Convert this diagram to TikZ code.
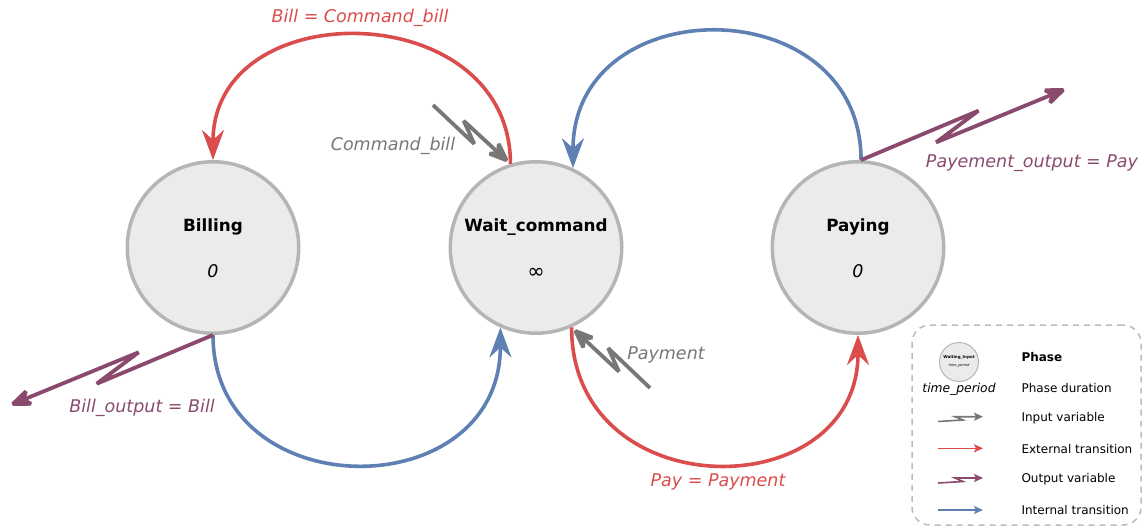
\documentclass[tikz,border=0pt]{standalone}
\usepackage{fontspec}
\setmainfont{DejaVu Sans}
\usetikzlibrary{arrows.meta,calc}
\definecolor{ered}{HTML}{DB4C4C}
\definecolor{iblue}{HTML}{5E80B2}
\definecolor{opurple}{HTML}{8A4A6E}
\definecolor{igray}{HTML}{777777}
\definecolor{stateborder}{HTML}{B5B5B5}
\definecolor{statefill}{HTML}{EBEBEB}
\definecolor{legborder}{HTML}{BBBBBB}
% #1 style, #2 start, #3 end, #4 offset, #5 far-spike angle, #6 near-spike angle
\newcommand{\myzz}[6]{%
  \draw[#1] (#2) -- ($(#2)!0.58!(#3)!#4!#5:(#3)$) -- ($(#2)!0.35!(#3)!#4!#6:(#3)$) -- (#3);}
\tikzset{
  bighead/.tip={Stealth[length=30pt,width=22pt,inset=10pt]},
  varhead/.tip={Stealth[length=28pt,width=22pt,inset=9pt]},
  smallhead/.tip={Stealth[length=9pt,width=8pt,inset=2pt]}
}
\begin{document}
\begin{tikzpicture}[x=1pt,y=-1pt,
  state/.style={circle,draw=stateborder,fill=statefill,line width=3.5pt,minimum size=171.5pt,inner sep=0pt},
  phase/.style={font=\fontsize{16.8}{19}\selectfont\bfseries,anchor=base},
  dur/.style={font=\fontsize{17.5}{20}\selectfont\itshape,anchor=base},
  lbl/.style={font=\fontsize{17.5}{20}\selectfont\itshape,anchor=base},
  trans/.style={line width=3.6pt,-bighead},
  ext/.style={trans,draw=ered,fill=ered},
  int/.style={trans,draw=iblue,fill=iblue},
  var/.style={line width=3.8pt,line join=miter,miter limit=2.5,-varhead},
  invar/.style={var,draw=igray,fill=igray},
  outvar/.style={var,draw=opurple,fill=opurple},
  legtxt/.style={font=\fontsize{12}{14}\selectfont,anchor=base west},
  legline/.style={line width=1.6pt,-smallhead}
]
\useasboundingbox (0,0) rectangle (1147,527);

% states
\node[state] (billing) at (213,247.5) {};
\node[state] (wait) at (536,247.5) {};
\node[state] (paying) at (858,247.5) {};
\node[phase] (billingname) at (213,231) {Billing};
\node[dur] (billingdur) at (213,277.5) {0};
\node[phase] (waitname) at (536,231) {Wait\_command};
\node[font=\fontsize{21}{24}\selectfont,anchor=base] (waitdur) at (536,278) {∞};
\node[phase] (payingname) at (858,231) {Paying};
\node[dur] (payingdur) at (858,277.5) {0};

% transitions
\draw[ext,fill=none] (wait.107) .. controls +(0,-168) and +(0,-168) .. (billing.90);
\draw[int,fill=none] (paying.88) .. controls +(0,-172) and +(0,-180) .. (wait.65);
\draw[int,fill=none] (billing.270) .. controls +(0,173) and +(0,181) .. (wait.246);
\draw[ext,fill=none] (wait.294) .. controls +(0,181) and +(0,173) .. (paying.270);

% input / output variables
\coordinate (cbstart) at (433,105);
\coordinate (paystart) at (650,388);
\coordinate (billend) at (8,406);
\coordinate (payend) at (1068,88);
\myzz{invar,fill=none}{cbstart}{wait.107}{6pt}{-90}{90}
\myzz{invar,fill=none}{paystart}{wait.294}{6pt}{-90}{90}
\myzz{outvar,fill=none}{billing.270}{billend}{8pt}{90}{-90}
\myzz{outvar,fill=none}{paying.88}{payend}{8pt}{90}{-90}

% labels
\node[lbl,text=ered] (l1) at (360,23) {Bill = Command\_bill};
\node[lbl,text=igray] (l2) at (393,150) {Command\_bill};
\node[lbl,text=opurple] (l3) at (1032,167) {Payement\_output = Pay};
\node[lbl,text=igray] (l4) at (666,359) {Payment};
\node[lbl,text=opurple] (l5) at (142,412) {Bill\_output = Bill};
\node[lbl,text=ered] (l6) at (718,486.5) {Pay = Payment};

% legend
\node[draw=legborder,line width=1.5pt,dash pattern=on 6pt off 5pt,rounded corners=18pt,
      minimum width=229pt,minimum height=200pt,inner sep=0pt] (legend) at (1026.5,425) {};
\node[circle,draw=stateborder,fill=statefill,line width=1pt,minimum size=39pt,inner sep=0pt] (legcircle) at (959,362) {};
\node[font=\fontsize{4}{5}\selectfont\bfseries] (legcname) at (959,357) {Waiting\_Input};
\node[font=\fontsize{3.5}{4}\selectfont\itshape] (legcdur) at (959,366) {time\_period};
\node[font=\fontsize{12.3}{14}\selectfont\itshape,anchor=base] (legtp) at (959,392) {time\_period};
\node[legtxt,font=\fontsize{12}{14}\selectfont\bfseries] (legphase) at (1018,361) {Phase};
\node[legtxt] (legdur) at (1018,392) {Phase duration};
\node[legtxt] (legin) at (1018,421) {Input variable};
\node[legtxt] (legext) at (1018,453) {External transition};
\node[legtxt] (legout) at (1018,482) {Output variable};
\node[legtxt] (legint) at (1018,514) {Internal transition};
\draw[legline,draw=igray] (938,421.5) -- (963,420) -- (955,416.7) -- (983,416.7);
\draw[legline,draw=ered] (938,448.3) -- (983,448.3);
\draw[legline,draw=opurple] (938,483) -- (963,481.5) -- (955,478) -- (983,478);
\draw[legline,draw=iblue] (938,510) -- (983,510);
\end{tikzpicture}
\end{document}
